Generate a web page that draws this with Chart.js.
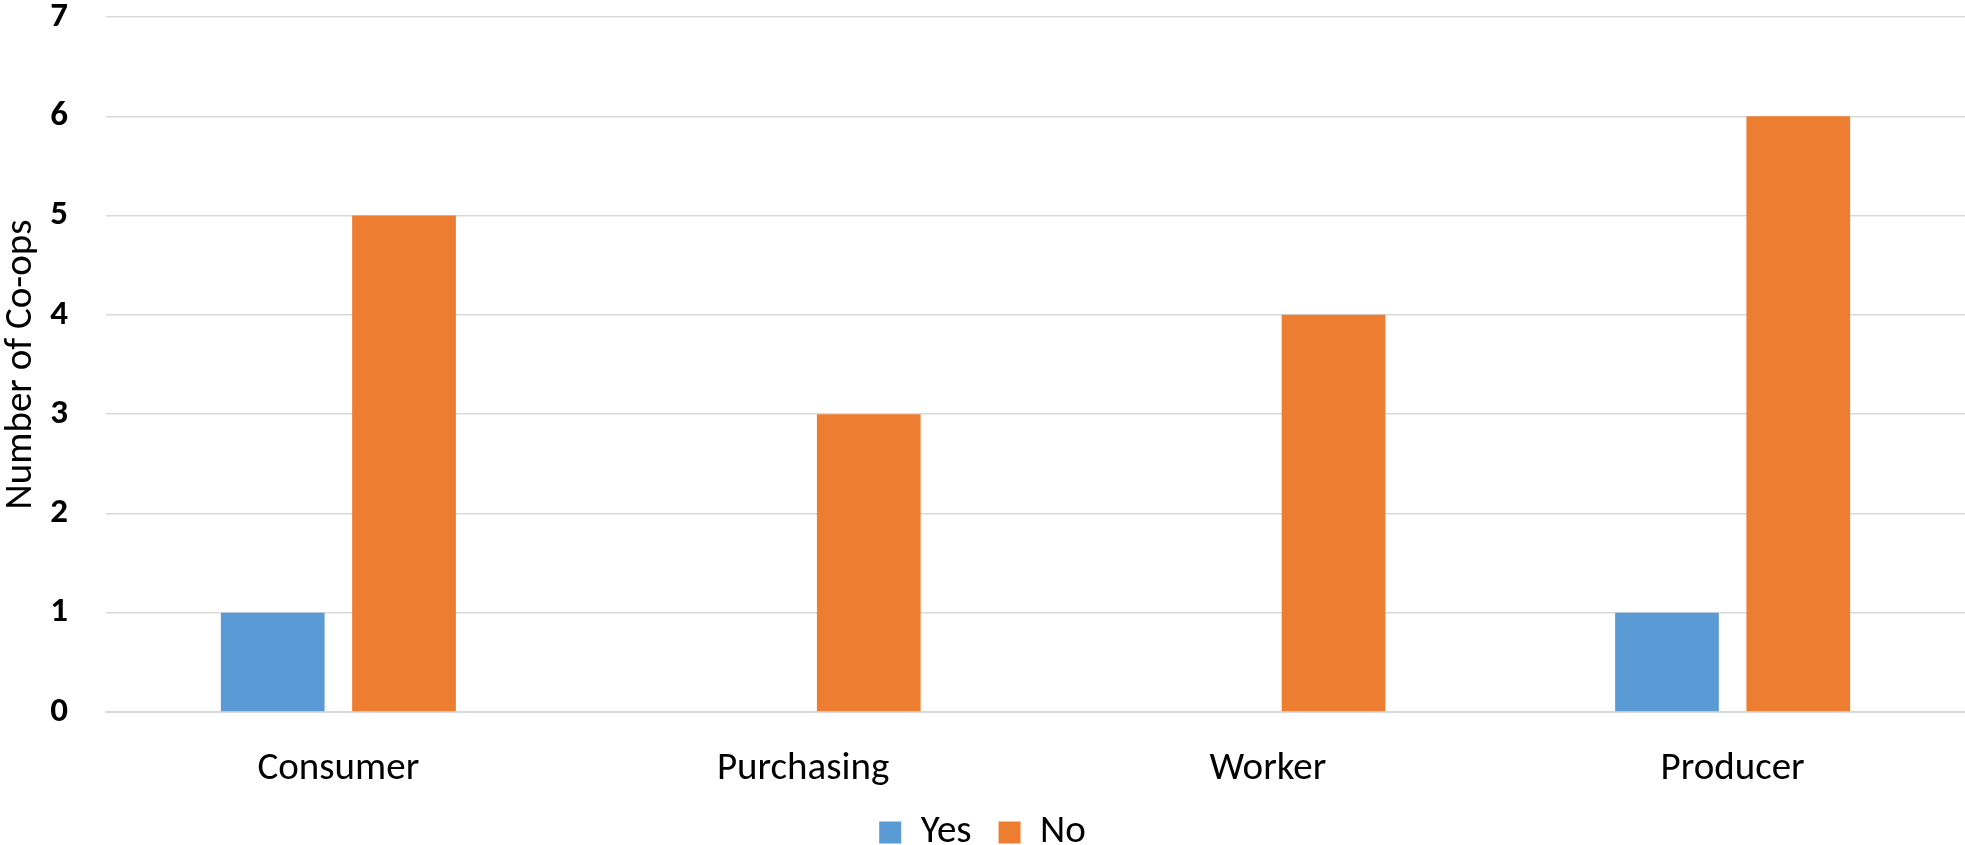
<!DOCTYPE html>
<html>
<head>
<meta charset="utf-8">
<script src="https://cdn.jsdelivr.net/npm/chart.js@4"></script>
<style>
  html, body { margin: 0; padding: 0; background: #fff; }
  #wrap { width: 1965px; height: 845px; }
</style>
</head>
<body>
<div id="wrap"><canvas id="coopChart" width="1965" height="845"></canvas></div>
<script>
// data
const categories = ['Consumer', 'Purchasing', 'Worker', 'Producer'];
const yesValues = [1, 0, 0, 1];
const noValues = [5, 3, 4, 6];
const yTicks = [0, 1, 2, 3, 4, 5, 6, 7];

const FONT = 'Carlito, Lato, sans-serif';

new Chart(document.getElementById('coopChart').getContext('2d'), {
  type: 'bar',
  data: {
    labels: categories,
    datasets: [
      { label: 'Yes', data: yesValues, backgroundColor: '#5B9BD5' },
      { label: 'No', data: noValues, backgroundColor: '#ED7D31' }
    ]
  },
  options: {
    responsive: false,
    animation: false,
    devicePixelRatio: 1,
    categoryPercentage: 0.565,
    barPercentage: 0.79,
    layout: { padding: { top: 17, right: 0, left: 0, bottom: -17 } },
    plugins: {
      tooltip: { enabled: false },
      legend: {
        position: 'bottom',
        labels: {
          color: '#000',
          font: { family: FONT, size: 39, lineHeight: 1 },
          boxWidth: 22,
          boxHeight: 22,
          padding: 27
        }
      }
    },
    scales: {
      x: {
        afterFit: (scale) => { scale.height = 74; },
        grid: { display: false },
        border: { display: true, color: '#d9d9d9', width: 2 },
        ticks: {
          color: '#000',
          padding: 30,
          font: { family: FONT, size: 39, lineHeight: 1 }
        }
      },
      y: {
        min: 0,
        max: 7,
        afterFit: (scale) => { scale.width = 106; },
        afterBuildTicks: (scale) => { scale.ticks = yTicks.map(v => ({ value: v })); },
        border: { display: false },
        grid: { color: '#d9d9d9', lineWidth: 1.5, drawTicks: true, tickLength: 38, tickColor: 'rgba(0,0,0,0)' },
        ticks: {
          color: '#000',
          padding: 0,
          font: { family: FONT, size: 35, weight: 'bold', lineHeight: 0.8 }
        },
        title: {
          display: true,
          text: 'Number of Co-ops',
          color: '#000',
          padding: { top: 2, bottom: 0 },
          font: { family: FONT, size: 39, lineHeight: 1 }
        }
      }
    }
  }
});
</script>
</body>
</html>
